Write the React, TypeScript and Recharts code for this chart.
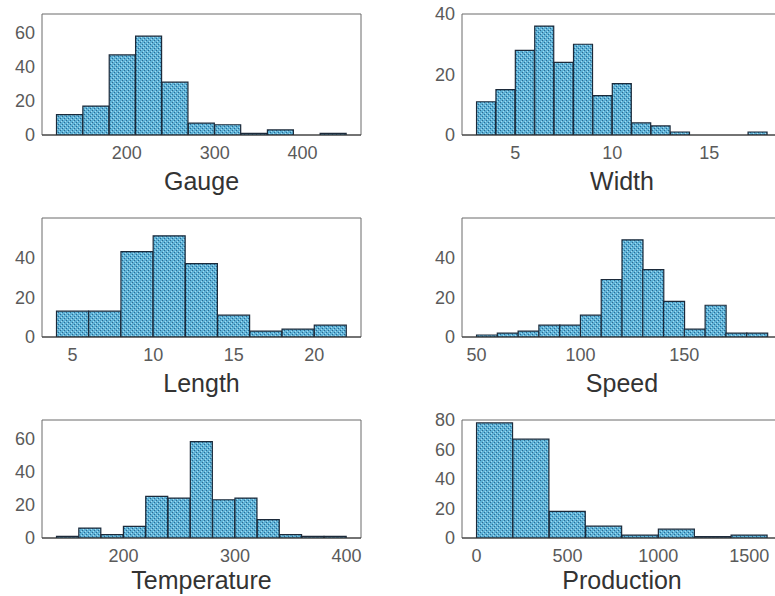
import React from "react";
import { ComposedChart, Bar, XAxis, YAxis, ReferenceArea, Label } from "recharts";

// histogram bin edges and counts
const gaugeEdges = [120, 150, 180, 210, 240, 270, 300, 330, 360, 390, 420, 450];
const gaugeCounts = [12, 17, 47, 58, 31, 7, 6, 1, 3, 0, 1];
const gaugeXTicks = [200, 300, 400];
const gaugeYTicks = [0, 20, 40, 60];

const widthEdges = [3, 4, 5, 6, 7, 8, 9, 10, 11, 12, 13, 14, 15, 16, 17, 18];
const widthCounts = [11, 15, 28, 36, 24, 30, 13, 17, 4, 3, 1, 0, 0, 0, 1];
const widthXTicks = [5, 10, 15];
const widthYTicks = [0, 20, 40];

const lengthEdges = [4, 6, 8, 10, 12, 14, 16, 18, 20, 22];
const lengthCounts = [13, 13, 43, 51, 37, 11, 3, 4, 6];
const lengthXTicks = [5, 10, 15, 20];
const lengthYTicks = [0, 20, 40];

const speedEdges = [50, 60, 70, 80, 90, 100, 110, 120, 130, 140, 150, 160, 170, 180, 190];
const speedCounts = [1, 2, 3, 6, 6, 11, 29, 49, 34, 18, 4, 16, 2, 2];
const speedXTicks = [50, 100, 150];
const speedYTicks = [0, 20, 40];

const temperatureEdges = [140, 160, 180, 200, 220, 240, 260, 280, 300, 320, 340, 360, 380, 400];
const temperatureCounts = [1, 6, 2, 7, 25, 24, 58, 23, 24, 11, 2, 1, 1];
const temperatureXTicks = [200, 300, 400];
const temperatureYTicks = [0, 20, 40, 60];

const productionEdges = [0, 200, 400, 600, 800, 1000, 1200, 1400, 1600];
const productionCounts = [78, 67, 18, 8, 2, 6, 1, 2];
const productionXTicks = [0, 500, 1000, 1500];
const productionYTicks = [0, 20, 40, 60, 80];

const FONT = "'Liberation Sans', Arial, Helvetica, sans-serif";
const AXIS_W = 50;
const BOTTOM_H = 62;
const TOP_M = 12;

type PanelProps = {
  title: string;
  edges: number[];
  counts: number[];
  xTicks: number[];
  yTicks: number[];
  yMax: number;
  left: number;
  top: number;
  right: number;
  bottom: number;
  labelOffset?: number;
};

function Panel({ title, edges, counts, xTicks, yTicks, yMax, left, top, right, bottom, labelOffset = 7 }: PanelProps) {
  const data = counts.map((c, i) => ({ x: (edges[i] + edges[i + 1]) / 2, count: c }));
  const first = edges[0];
  const last = edges[edges.length - 1];
  const pad = (last - first) * 0.05;
  const xDomain: [number, number] = [first - pad, last + pad];
  const w = right - left + AXIS_W + 2;
  const h = bottom - top + BOTTOM_H + TOP_M;
  const tick = { fill: "#5a5a5a", fontSize: 18, fontFamily: FONT };

  return (
    <div style={{ position: "absolute", left: left - AXIS_W, top: top - TOP_M }}>
      <ComposedChart
        width={w}
        height={h}
        data={data}
        margin={{ top: TOP_M, right: 2, bottom: 0, left: 0 }}
        barCategoryGap={0}
        barGap={0}
      >
        <XAxis
          dataKey="x"
          type="number"
          domain={xDomain}
          allowDataOverflow
          ticks={xTicks}
          interval={0}
          tickLine={false}
          tickSize={6}
          tickMargin={5}
          axisLine={{ stroke: "#333" }}
          height={BOTTOM_H}
          tick={tick}
        >
          <Label value={title} position="insideBottom" offset={labelOffset} fill="#333" fontSize={25} fontFamily={FONT} />
        </XAxis>
        <YAxis
          type="number"
          domain={[0, yMax]}
          allowDataOverflow
          ticks={yTicks}
          interval={0}
          tickLine={false}
          tickSize={6}
          tickMargin={1}
          axisLine={false}
          width={AXIS_W}
          tick={tick}
        />
        <Bar dataKey="count" fill="url(#hatch)" stroke="#1c2a3a" strokeWidth={1.2} isAnimationActive={false} />
        <ReferenceArea x1={xDomain[0]} x2={xDomain[1]} y1={0} y2={yMax} fill="none" stroke="#6b6b6b" strokeWidth={1} />
      </ComposedChart>
    </div>
  );
}

export default function App() {
  return (
    <div
      style={{
        position: "absolute",
        left: 0,
        top: 0,
        width: 775,
        height: 596,
        overflow: "hidden",
        background: "#fff",
      }}
    >
      <svg width={0} height={0} style={{ position: "absolute" }}>
        <defs>
          <pattern id="hatch" patternUnits="userSpaceOnUse" width={4} height={4}>
            <rect x={0} y={0} width={4} height={4} fill="#5db1d6" />
            <rect x={0} y={0} width={1} height={1} fill="#2c6a92" />
            <rect x={2} y={2} width={1} height={1} fill="#2c6a92" />
            <rect x={1} y={3} width={1} height={1} fill="#a6dbef" />
            <rect x={3} y={1} width={1} height={1} fill="#a6dbef" />
          </pattern>
        </defs>
      </svg>
      <Panel title="Gauge" edges={gaugeEdges} counts={gaugeCounts} xTicks={gaugeXTicks} yTicks={gaugeYTicks} yMax={71} left={42} top={14} right={361} bottom={135} />
      <Panel title="Width" edges={widthEdges} counts={widthCounts} xTicks={widthXTicks} yTicks={widthYTicks} yMax={40} left={462} top={14} right={782} bottom={135} />
      <Panel title="Length" edges={lengthEdges} counts={lengthCounts} xTicks={lengthXTicks} yTicks={lengthYTicks} yMax={60} left={42} top={218} right={361} bottom={337} />
      <Panel title="Speed" edges={speedEdges} counts={speedCounts} xTicks={speedXTicks} yTicks={speedYTicks} yMax={60} left={462} top={218} right={782} bottom={337} />
      <Panel title="Temperature" edges={temperatureEdges} counts={temperatureCounts} xTicks={temperatureXTicks} yTicks={temperatureYTicks} yMax={71} left={42} top={420} right={361} bottom={538} labelOffset={11} />
      <Panel title="Production" edges={productionEdges} counts={productionCounts} xTicks={productionXTicks} yTicks={productionYTicks} yMax={80} left={462} top={420} right={782} bottom={538} labelOffset={11} />
    </div>
  );
}
